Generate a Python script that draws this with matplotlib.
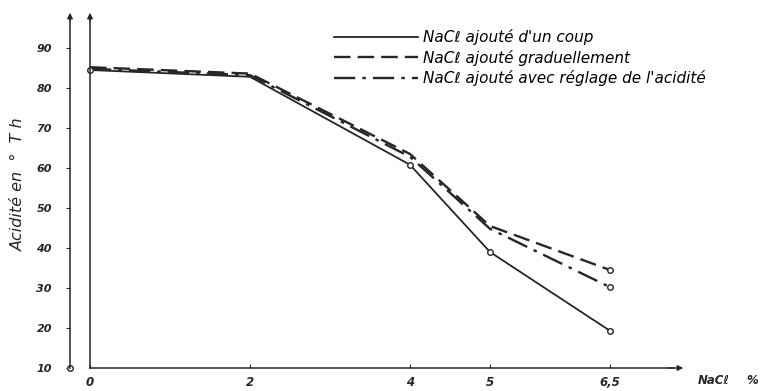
import matplotlib.pyplot as plt

# NaCl concentration (%) and acidity (degrees Thorner)
nacl = [0, 2, 4, 5, 6.5]
acid_un_coup = [84.5, 82.8, 60.8, 39.0, 19.3]
acid_graduel = [85.2, 83.6, 63.5, 45.5, 34.5]
acid_reglage = [84.8, 83.2, 62.8, 44.8, 30.2]

xticks = [0, 2, 4, 5, 6.5]
xticklabels = ['0', '2', '4', '5', '6,5']
yticks = [10, 20, 30, 40, 50, 60, 70, 80, 90]

labels = ["NaCℓ ajouté d'un coup",
          "NaCℓ ajouté graduellement",
          "NaCℓ ajouté avec réglage de l'acidité"]

ink = '#262626'

fig = plt.figure(figsize=(7.6, 3.91), dpi=100)
ax = fig.add_axes([0, 0, 1, 1])
ax.set_xlim(-1.125, 8.375)
ax.set_ylim(4.25, 102)

ax.plot(nacl, acid_un_coup, color=ink, lw=1.3, ls='-', label=labels[0])
ax.plot(nacl, acid_graduel, color=ink, lw=1.7, ls=(0, (7, 3)), label=labels[1])
ax.plot(nacl, acid_reglage, color=ink, lw=1.7, ls=(0, (9, 3, 1.5, 3)), label=labels[2])

# open circles at the measured points
ax.plot([nacl[0], nacl[2], nacl[3], nacl[4]],
        [acid_un_coup[0], acid_un_coup[2], acid_un_coup[3], acid_un_coup[4]],
        ls='none', marker='o', ms=4, mfc='white', mec=ink, mew=1)
ax.plot([nacl[4]] * 2, [acid_graduel[4], acid_reglage[4]],
        ls='none', marker='o', ms=4, mfc='white', mec=ink, mew=1)

# axes drawn like the hand drawing
for s in ['top', 'right']:
    ax.spines[s].set_visible(False)
ax.spines['left'].set_position(('data', -0.25))
ax.spines['left'].set_bounds(10, 98)
ax.spines['bottom'].set_position(('data', 10))
ax.spines['bottom'].set_bounds(0, 7.3)
for s in ['left', 'bottom']:
    ax.spines[s].set_color(ink)
    ax.spines[s].set_linewidth(1.1)

ax.plot([0, 0], [10, 98], color=ink, lw=1.1)
ax.annotate('', xy=(0, 99.5), xytext=(0, 96),
            arrowprops=dict(arrowstyle='-|>', color=ink, lw=1, mutation_scale=8))
ax.annotate('', xy=(-0.25, 99.5), xytext=(-0.25, 96),
            arrowprops=dict(arrowstyle='-|>', color=ink, lw=1, mutation_scale=8))
ax.annotate('', xy=(7.45, 10), xytext=(7.2, 10),
            arrowprops=dict(arrowstyle='-|>', color=ink, lw=1, mutation_scale=8))
ax.plot([-0.25], [10], marker='o', ms=4, mfc='white', mec=ink, mew=1)

tick_font = dict(fontstyle='italic', fontweight='bold', color=ink)
ax.set_xticks(xticks)
ax.set_xticklabels(xticklabels, fontsize=8.5, **tick_font)
ax.set_yticks(yticks)
ax.set_yticklabels([str(v) for v in yticks], fontsize=8, **tick_font)
ax.tick_params(axis='x', direction='in', length=3, pad=6, color=ink)
ax.tick_params(axis='y', direction='out', length=3, pad=10, color=ink)

ax.text(7.6, 7.0, 'NaCℓ', fontsize=8.5, ha='left', va='center', **tick_font)
ax.text(8.2, 7.0, '%', fontsize=8.5, ha='left', va='center', **tick_font)
ax.text(-0.9, 56, 'Acidité en  °  T h', rotation=90, fontsize=11.5,
        fontstyle='italic', color=ink, ha='center', va='center')

ax.legend(loc='upper left', bbox_to_anchor=(328 / 760, 1 - 23 / 391),
          frameon=False, handlelength=5.5, handletextpad=0.3,
          labelspacing=0.3, borderaxespad=0,
          prop=dict(style='italic', size=11))

fig.savefig('out.png', dpi=100)
